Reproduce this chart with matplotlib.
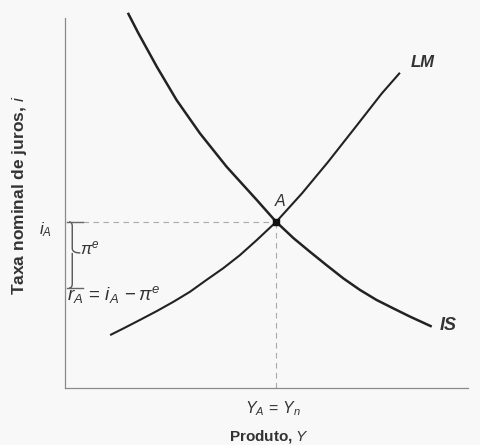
import matplotlib
matplotlib.use("Agg")
import matplotlib.pyplot as plt
from matplotlib.path import Path
from matplotlib.patches import PathPatch

plt.rcParams['font.family'] = ['Liberation Sans', 'DejaVu Sans']
plt.rcParams['mathtext.fontset'] = 'custom'
plt.rcParams['mathtext.rm'] = 'Liberation Sans'
plt.rcParams['mathtext.it'] = 'Liberation Sans:italic'
plt.rcParams['mathtext.bf'] = 'Liberation Sans:bold'

# IS curve
is_x = [1.56, 1.82, 2.28, 2.77, 3.35, 4.01, 4.76, 5.24, 5.67, 6.08, 6.49, 6.91,
        7.32, 7.73, 8.15, 8.56, 9.10]
is_y = [10.14, 9.59, 8.68, 7.78, 6.88, 5.98, 5.08, 4.49, 4.05, 3.68, 3.32, 2.96,
        2.65, 2.38, 2.15, 1.93, 1.66]
# LM curve
lm_x = [1.12, 1.45, 1.86, 2.28, 2.69, 3.10, 3.51, 3.93, 4.34, 4.76, 5.24, 5.88,
        6.52, 7.20, 7.86, 8.31]
lm_y = [1.43, 1.61, 1.84, 2.08, 2.33, 2.60, 2.92, 3.24, 3.59, 4.00, 4.49, 5.26,
        6.10, 7.04, 7.96, 8.52]
# equilibrium and real rate
eq_x, eq_y = 5.24, 4.49
r_level = 2.70

fig = plt.figure(figsize=(4.81, 4.45), dpi=100)
fig.patch.set_facecolor('#f8f8f8')
ax = fig.add_axes([65/481, 1-388/445, 403/481, 370/445])
ax.set_facecolor('#f8f8f8')
ax.set_xlim(0, 10)
ax.set_ylim(0, 10)
for s in ['top', 'right']:
    ax.spines[s].set_visible(False)
for s in ['left', 'bottom']:
    ax.spines[s].set_color('#8a8a8a')
    ax.spines[s].set_linewidth(0.9)
ax.set_xticks([])
ax.set_yticks([])

curve_col = '#222222'
ax.plot(is_x, is_y, color=curve_col, lw=1.8, clip_on=False, solid_capstyle='butt')
ax.plot(lm_x, lm_y, color=curve_col, lw=1.5, clip_on=False, solid_capstyle='butt')

# dashed guides
ax.plot([0.45, eq_x], [eq_y, eq_y], color='#aaaaaa', lw=0.8, ls=(0, (5, 4)))
ax.plot([eq_x, eq_x], [0, eq_y], color='#aaaaaa', lw=0.8, ls=(0, (5, 4)))
ax.plot([0.05, 0.45], [eq_y, eq_y], color='#666666', lw=1.0)
ax.plot([0.05, 0.45], [r_level, r_level], color='#666666', lw=1.0)
ax.plot([eq_x], [eq_y], marker='s', ms=4, color='#111111')

# curly brace between i_A and r_A
xb, xt = 0.18, 0.38
ytip = 3.65
verts = [(0.1, eq_y), (xb, eq_y), (xb, eq_y - 0.12),
         (xb, ytip + 0.12), (xb, ytip), (xt, ytip),
         (xb, ytip), (xb, ytip - 0.12),
         (xb, r_level + 0.12), (xb, r_level), (0.1, r_level)]
codes = [Path.MOVETO, Path.CURVE3, Path.CURVE3,
         Path.LINETO, Path.CURVE3, Path.CURVE3,
         Path.MOVETO, Path.CURVE3,
         Path.LINETO, Path.CURVE3, Path.CURVE3]
ax.add_patch(PathPatch(Path(verts, codes), fill=False, ec='#555555', lw=1.0, clip_on=False))

tc = '#333333'
ax.text(-0.48, 4.27, r'$i_A$', fontsize=12, color=tc, ha='center', va='center', clip_on=False)
ax.text(0.38, 3.78, r'$\pi^e$', fontsize=12, color=tc, ha='left', va='center')
ax.text(0.05, 2.52, r'$r_A\,=\,i_A\,-\pi^e$', fontsize=13.5, color=tc, ha='left', va='center')
ax.text(5.33, 5.05, 'A', fontsize=11.5, style='italic', color=tc, ha='center', va='center')
ax.text(8.88, 8.80, 'LM', fontsize=12, style='italic', weight='bold', color=tc, ha='center', va='center')
ax.text(9.5, 1.70, 'IS', fontsize=13, style='italic', weight='bold', color=tc, ha='center', va='center', clip_on=False)
ax.text(5.15, -0.56, r'$Y_A\,=\,Y_n$', fontsize=11.5, color=tc, ha='center', va='center', clip_on=False)
ax.text(5.06, -1.3, r'Produto, $\mathbf{\mathit{Y}}$', fontsize=11, weight='bold', color=tc,
        ha='center', va='center', clip_on=False)
fig.text(20/481, 1-195/445, r'Taxa nominal de juros, $\mathit{i}$', fontsize=12.5, weight='bold',
         color=tc, rotation=90, ha='center', va='center')

fig.savefig('out.png', dpi=100, facecolor=fig.get_facecolor())
